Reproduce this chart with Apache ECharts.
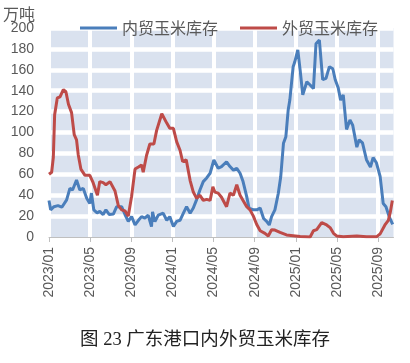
<!DOCTYPE html>
<html><head><meta charset="utf-8">
<script src="https://cdn.jsdelivr.net/npm/echarts@6/dist/echarts.min.js"></script>
<style>html,body{margin:0;padding:0;background:#fff}#c{width:410px;height:363px}</style>
</head><body><div id="c"></div>
<script>
const seriesNames = ['内贸玉米库存', '外贸玉米库存'];
const xTickLabels = ['2023/01','2023/05','2023/09','2024/01','2024/05','2024/09','2025/01','2025/05','2025/09'];
const yTicks = [0,20,40,60,80,100,120,140,160,180,200];

const domesticDates = ['2023-01-01','2023-01-06','2023-01-16','2023-01-28','2023-02-08','2023-02-21','2023-03-02','2023-03-10','2023-03-22','2023-04-01','2023-04-11','2023-04-21','2023-04-30','2023-05-05','2023-05-12','2023-05-22','2023-05-30','2023-06-09','2023-06-17','2023-06-27','2023-07-09','2023-07-19','2023-08-03','2023-08-13','2023-08-23','2023-09-02','2023-09-12','2023-09-22','2023-10-01','2023-10-11','2023-10-21','2023-10-31','2023-11-03','2023-11-10','2023-11-20','2023-12-04','2023-12-15','2023-12-24','2024-01-04','2024-01-14','2024-01-24','2024-02-03','2024-02-12','2024-02-22','2024-03-02','2024-03-12','2024-03-22','2024-04-01','2024-04-11','2024-04-21','2024-05-02','2024-05-15','2024-05-25','2024-06-09','2024-06-19','2024-06-29','2024-07-09','2024-07-19','2024-07-28','2024-08-08','2024-08-15','2024-08-28','2024-09-07','2024-09-17','2024-09-27','2024-10-06','2024-10-14','2024-10-21','2024-10-31','2024-11-10','2024-11-17','2024-11-25','2024-12-02','2024-12-09','2024-12-14','2024-12-24','2024-12-29','2025-01-07','2025-01-14','2025-01-22','2025-02-03','2025-02-12','2025-02-21','2025-02-28','2025-03-10','2025-03-20','2025-03-30','2025-04-09','2025-04-19','2025-04-26','2025-05-05','2025-05-12','2025-05-20','2025-05-30','2025-06-09','2025-06-17','2025-06-29','2025-07-06','2025-07-16','2025-07-28','2025-08-09','2025-08-17','2025-08-27','2025-09-07','2025-09-16','2025-09-24','2025-10-04','2025-10-14'];
const domesticValues = [35,26,29,30,28.5,35.5,46.5,45,54.5,45,46.5,37,32,42,26,23,24.5,21.5,26,21.5,22,29,29,21.5,15,19.5,11.5,16,19.5,18,21,10,24,14.7,21,22.8,16,19.5,10,15,16,22.8,29,22.8,27.7,35.8,45,53,56.5,61,73.7,65.8,67.4,72,67.4,64,65.8,61,53,38.6,27.7,26,26,27.7,17.7,15,11.5,19.5,26,41.8,57.6,89.6,96,121.5,131,163,167.7,179,160,136,148.6,145.5,142,185,188.5,150.5,151.8,163,161,150.5,142.5,131,136,103,112,107,86,93,90,74,67,76,71,58,32,29,19,12];

const foreignDates = ['2023-01-01','2023-01-09','2023-01-14','2023-01-18','2023-01-26','2023-02-03','2023-02-12','2023-02-19','2023-02-26','2023-03-07','2023-03-15','2023-03-22','2023-03-27','2023-04-04','2023-04-16','2023-04-30','2023-05-10','2023-05-23','2023-05-30','2023-06-09','2023-06-17','2023-06-29','2023-07-14','2023-07-24','2023-08-03','2023-08-13','2023-08-23','2023-09-02','2023-09-12','2023-09-22','2023-10-01','2023-10-06','2023-10-16','2023-10-26','2023-11-07','2023-11-15','2023-11-30','2023-12-15','2023-12-24','2024-01-04','2024-01-14','2024-01-24','2024-02-01','2024-02-11','2024-02-22','2024-03-02','2024-03-12','2024-03-22','2024-04-01','2024-04-11','2024-04-21','2024-04-29','2024-05-05','2024-05-15','2024-05-25','2024-06-09','2024-06-19','2024-06-29','2024-07-09','2024-07-19','2024-07-28','2024-08-08','2024-08-18','2024-08-28','2024-09-07','2024-09-17','2024-10-01','2024-10-11','2024-10-21','2024-10-31','2024-11-15','2024-12-04','2024-12-24','2025-01-14','2025-02-12','2025-02-21','2025-03-02','2025-03-17','2025-04-01','2025-04-11','2025-04-21','2025-04-30','2025-05-20','2025-06-29','2025-07-28','2025-08-28','2025-09-07','2025-09-21','2025-10-01','2025-10-07','2025-10-13'];
const foreignValues = [60,62,76,117,133,134,141,139,127,119,98,93,79,65,59,59,52,40,53,52,50,53,44,30,26,25,20,39,65,67,69,62,78,89,89,102,118,109,104,104,91,83,72,74,54,43,37,40,35,36,35,48,43,42,38,29,42,40,50,40,35,29,26,20,12,6,3.5,1,7,6.6,4.4,2,1.3,0.5,0,6,7,13.7,11.5,9,3.5,1,0.3,1,0.3,0.3,3,11.5,16,24,35];

function toMonths(s) {
  const p = s.split('-').map(Number);
  const dim = new Date(p[0], p[1], 0).getDate();
  return (p[0] - 2023) * 12 + (p[1] - 1) + (p[2] - 1) / dim;
}
function pairs(dates, vals) { return dates.map((d, i) => [toMonths(d), vals[i]]); }

const chart = echarts.init(document.getElementById('c'), null, {renderer: 'canvas'});
const gray = '#595959';
chart.setOption({
  animation: false,
  backgroundColor: '#fff',
  grid: {left: 49, right: 16.5, top: 28, bottom: 126, show: true, backgroundColor: '#dae2ef', borderWidth: 0},
  legend: {
    data: seriesNames, left: 75, top: 15, icon: 'rect', itemWidth: 37, itemHeight: 3, itemGap: 22,
    textStyle: {fontSize: 16, color: gray, fontFamily: 'Noto Sans CJK SC'}
  },
  graphic: [
    {type: 'text', left: 3, top: 6, style: {text: '万吨', fontSize: 16, fill: gray, fontFamily: 'Noto Sans CJK SC'}},
    {type: 'text', left: 'center', top: 331, style: {text: '图 23 广东港口内外贸玉米库存', fontSize: 18.5, fill: '#222', fontFamily: 'Liberation Serif, Noto Sans CJK SC'}}
  ],
  xAxis: {
    type: 'value', min: 0, max: 33.5, interval: 4,
    axisLine: {show: true, lineStyle: {color: '#bfbfbf', width: 1}},
    axisTick: {show: true, length: 5, lineStyle: {color: '#bfbfbf'}, customValues: xTickLabels.map((_, i) => i * 4)},
    axisLabel: {
      rotate: 90, margin: 10, fontSize: 14, color: gray, fontFamily: 'Liberation Sans',
      customValues: xTickLabels.map((_, i) => i * 4),
      formatter: v => { const i = Math.round(v / 4); return (Math.abs(v - i * 4) < 1e-6 && xTickLabels[i]) ? xTickLabels[i] : ''; }
    },
    splitLine: {show: true, lineStyle: {color: '#fff', width: 4}}
  },
  yAxis: {
    type: 'value', min: 0, max: 200, interval: 20,
    axisLine: {show: false}, axisTick: {show: false},
    axisLabel: {margin: 15, fontSize: 14, color: gray, fontFamily: 'Liberation Sans',
      formatter: v => yTicks.indexOf(v) >= 0 ? String(v) : ''},
    splitLine: {show: true, showMinLine: false, lineStyle: {color: '#fff', width: 4.5}}
  },
  series: [
    {name: seriesNames[0], type: 'line', data: pairs(domesticDates, domesticValues), showSymbol: false, symbol: 'none',
     lineStyle: {color: '#4a7ebb', width: 3}, itemStyle: {color: '#4a7ebb'}},
    {name: seriesNames[1], type: 'line', data: pairs(foreignDates, foreignValues), showSymbol: false, symbol: 'none',
     lineStyle: {color: '#be4b48', width: 3}, itemStyle: {color: '#be4b48'}}
  ]
});
</script></body></html>
